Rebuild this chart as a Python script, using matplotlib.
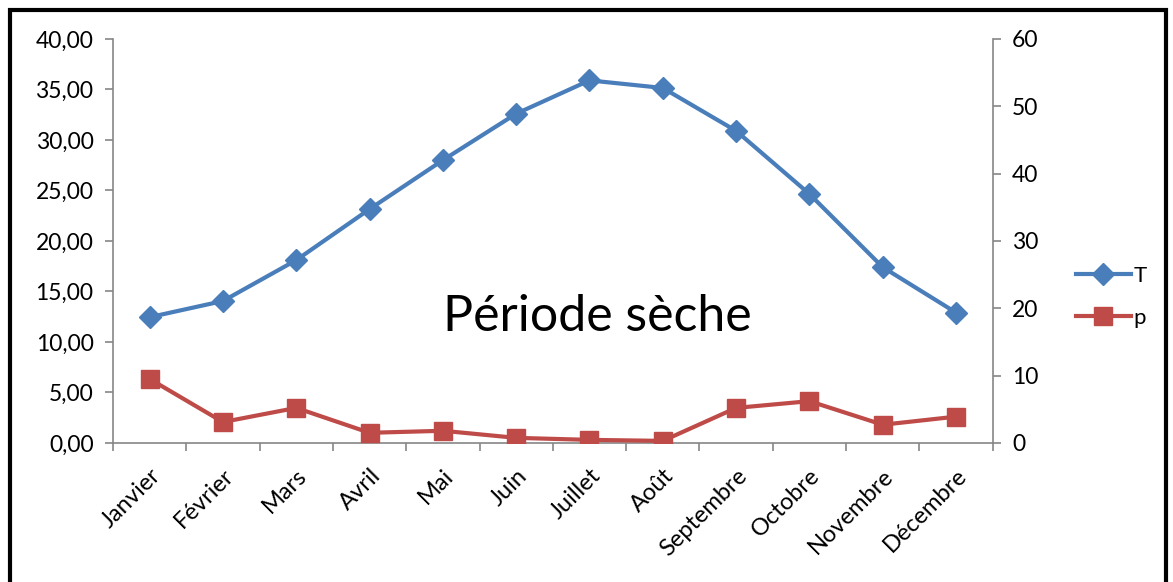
import matplotlib.pyplot as plt
from matplotlib.patches import Rectangle

plt.rcParams['font.family'] = ['Lato', 'DejaVu Sans']

mois = ["Janvier", "Février", "Mars", "Avril", "Mai", "Juin", "Juillet",
        "Août", "Septembre", "Octobre", "Novembre", "Décembre"]
T = [12.45, 14.05, 18.1, 23.15, 28.0, 32.6, 35.9, 35.15, 30.9, 24.65, 17.4, 12.9]
p = [9.5, 3.1, 5.2, 1.5, 1.8, 0.75, 0.45, 0.3, 5.2, 6.2, 2.7, 3.9]

blue = "#4a7ebb"
red = "#be4b48"
grey = "#868686"

fig = plt.figure(figsize=(11.73, 5.82), dpi=100)
ax = fig.add_axes([0.0963, 0.239, 0.750, 0.694])
ax2 = ax.twinx()

x = range(len(mois))
l1, = ax.plot(x, T, color=blue, lw=3, marker="D", ms=11, label="T")
l2, = ax2.plot(x, p, color=red, lw=3, marker="s", ms=13, label="p")

ax.set_xlim(-0.5, 11.5)
ax.set_ylim(0, 40)
ax2.set_ylim(0, 60)
ax.set_yticks(range(0, 41, 5))
ax.set_yticklabels([f"{v},00" for v in range(0, 41, 5)])
ax2.set_yticks(range(0, 61, 10))

ax.set_xticks(x)
ax.set_xticklabels(mois, rotation=45, ha="right", rotation_mode="anchor")
ax.set_xticks([i - 0.5 for i in range(13)], minor=True)
ax.tick_params(axis="x", which="major", length=0, labelsize=17, pad=16)
ax.tick_params(axis="x", which="minor", length=6, color=grey, width=1.2)
ax.tick_params(axis="y", labelsize=16.5, length=6, color=grey, width=1.2, pad=8)
ax2.tick_params(axis="y", labelsize=16.5, length=6, color=grey, width=1.2, pad=8)

for a in (ax, ax2):
    a.spines["top"].set_visible(False)
    for s in ("left", "right", "bottom"):
        a.spines[s].set_color(grey)
        a.spines[s].set_linewidth(1.2)
ax.spines["right"].set_visible(False)
ax2.spines["left"].set_visible(False)
ax2.spines["bottom"].set_visible(False)

ax.text(0.509, 0.455, "Période sèche", transform=fig.transFigure,
        fontsize=36, ha="center", va="center")

fig.legend(handles=[l1, l2], loc="center left", bbox_to_anchor=(0.9, 0.49),
           frameon=False, fontsize=16, handlelength=2.5, handletextpad=0.1,
           labelspacing=1.0)

fig.patches.append(Rectangle((10 / 1173, -0.05), 1156 / 1173, 1.05 - 10 / 582,
                             transform=fig.transFigure, fill=False,
                             edgecolor="black", lw=3))

fig.savefig("out.png", dpi=100)
